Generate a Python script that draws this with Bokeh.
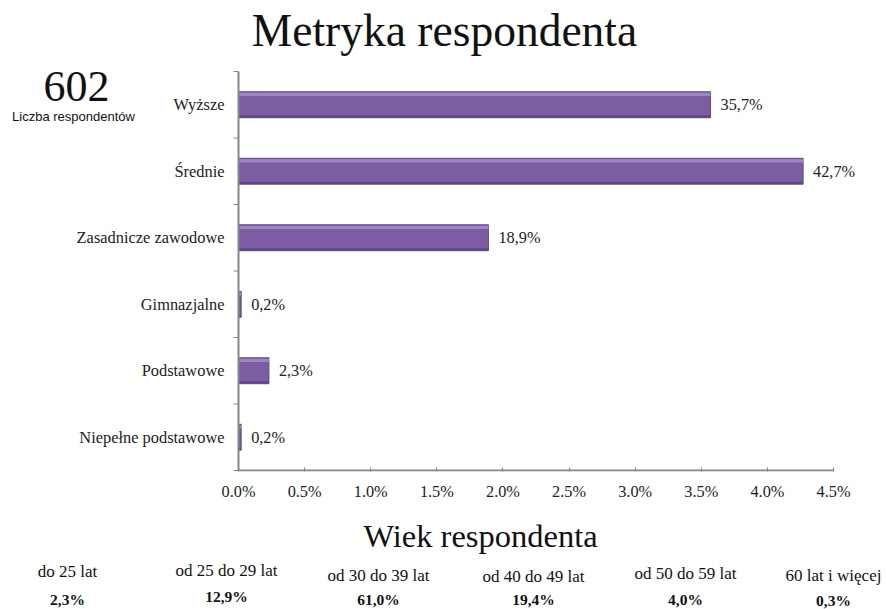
from bokeh.plotting import figure
from bokeh.layouts import column
from bokeh.models import Range1d, FixedTicker, Label, ColumnDataSource
from bokeh.core.properties import value
from bokeh.embed import file_html
from bokeh.resources import INLINE

# ---- data ----
education = ["Wyższe", "Średnie", "Zasadnicze zawodowe", "Gimnazjalne",
             "Podstawowe", "Niepełne podstawowe"]
edu_values = [35.7, 42.7, 18.9, 0.2, 2.3, 0.2]
x_ticks = [0, 5, 10, 15, 20, 25, 30, 35, 40, 45]
x_tick_labels = ["0.0%", "0.5%", "1.0%", "1.5%", "2.0%", "2.5%", "3.0%", "3.5%", "4.0%", "4.5%"]
age_groups = ["do 25 lat", "od 25 do 29 lat", "od 30 do 39 lat", "od 40 do 49 lat",
              "od 50 do 59 lat", "60 lat i więcej"]
age_values = [2.3, 12.9, 61.0, 19.4, 4.0, 0.3]
respondents = 602

# ---- layout (pixels) ----
W = 884
H1, H2 = 508, 101
AX_L, AX_R = 238, 833      # x axis 0 .. 45
AX_T, AX_B = 71, 470       # y axis top / bottom
FB = 471                   # frame bottom
SERIF = "Liberation Serif"
SANS = "Liberation Sans"
GRAY = "#868686"

def fmt(v):
    return ("%.1f%%" % v).replace(".", ",")

ppx = (AX_R - AX_L) / 45.0
ppy = (AX_B - AX_T) / 6.0
xr = Range1d(-AX_L / ppx, 45 + (W - AX_R) / ppx)
yr = Range1d(6 + (FB - AX_B) / ppy, -AX_T / ppy)

p = figure(width=W, height=H1, output_backend="svg", toolbar_location=None,
           x_range=xr, y_range=yr, y_axis_type=None,
           min_border_left=0, min_border_right=0, min_border_top=0, min_border_bottom=H1 - FB)
p.outline_line_color = None
p.grid.visible = False
p.background_fill_color = "white"
p.border_fill_color = "white"

ypos = [i + 0.5 for i in range(len(education))]
src = ColumnDataSource(dict(y=ypos, v=edu_values, lab=[fmt(v) for v in edu_values],
                            cat=education, zero=[0] * len(education),
                            y_top=[y - 0.155 for y in ypos], y_bot=[y + 0.175 for y in ypos]))
p.hbar(y="y", left=0, right="v", height=0.39, source=src,
       fill_color="#7C5DA3", line_color="#5E4A7E", line_width=1)
p.hbar(y="y_top", left=0, right="v", height=0.05, source=src,
       fill_color="#9E86C2", line_color=None)
p.hbar(y="y_bot", left=0, right="v", height=0.035, source=src,
       fill_color="#5F4782", line_color=None)

p.text(x="v", y="y", text="lab", source=src, x_offset=10,
       text_baseline="middle", text_font=value(SERIF), text_font_size="16.3px",
       text_color="#222222")

# category axis (drawn with glyphs so that the whole canvas is the frame)
bounds = list(range(len(education) + 1))
p.segment(x0=[0], y0=[0], x1=[0], y1=[6], line_color=GRAY, line_width=2)
p.segment(x0=[0] * len(bounds), y0=bounds, x1=[-5 / ppx] * len(bounds), y1=bounds,
          line_color=GRAY, line_width=1)
p.text(x="zero", y="y", text="cat", source=src, x_offset=-14, text_align="right",
       text_baseline="middle", text_font=value(SERIF), text_font_size="16.4px",
       text_color="#222222")
# x axis line
p.segment(x0=[0], y0=[6], x1=[45], y1=[6], line_color=GRAY, line_width=2)

xa = p.xaxis[0]
xa.ticker = FixedTicker(ticks=x_ticks)
xa.major_label_overrides = {t: l for t, l in zip(x_ticks, x_tick_labels)}
xa.major_label_text_font = SERIF
xa.major_label_text_font_size = "16.3px"
xa.major_label_text_color = "#222222"
xa.axis_line_color = None
xa.major_tick_line_color = GRAY
xa.major_tick_in = 4
xa.major_tick_out = 0
xa.minor_tick_line_color = None
xa.major_label_standoff = 10

def sy(cy):
    return FB - cy

p.add_layout(Label(x=444, y=sy(30), x_units="screen", y_units="screen", text="Metryka respondenta",
                   text_align="center", text_baseline="middle", text_font=SERIF,
                   text_font_size="45.5px", text_color="#111111"))
p.add_layout(Label(x=76, y=sy(86), x_units="screen", y_units="screen", text=str(respondents),
                   text_align="center", text_baseline="middle", text_font=SERIF,
                   text_font_size="44px", text_color="#111111"))
p.add_layout(Label(x=73, y=sy(116), x_units="screen", y_units="screen", text="Liczba respondentów",
                   text_align="center", text_baseline="middle", text_font=SANS,
                   text_font_size="13px", text_color="#111111"))

# ---- bottom block: age ----
q = figure(width=W, height=H2, output_backend="svg", toolbar_location=None,
           x_range=Range1d(0, W), y_range=Range1d(H1 + H2, H1),
           x_axis_type=None, y_axis_type=None,
           min_border_left=0, min_border_right=0, min_border_top=0, min_border_bottom=0)
q.outline_line_color = None
q.grid.visible = False
q.background_fill_color = "white"
q.border_fill_color = "white"

q.text(x=[480], y=[535], text=["Wiek respondenta"], text_align="center", text_baseline="middle",
       text_font=value(SERIF), text_font_size="32.5px", text_color="#111111")

age_x = [67, 226, 378, 533, 685, 833]
age_y1 = [571, 570, 575, 576, 573, 575]
age_y2 = [599, 596, 599, 599, 599, 600]
age_src = ColumnDataSource(dict(x=age_x, y1=age_y1, y2=age_y2, g=age_groups,
                                v=[fmt(v) for v in age_values]))
q.text(x="x", y="y1", text="g", source=age_src, text_align="center", text_baseline="middle",
       text_font=value(SERIF), text_font_size="17px", text_color="#111111")
q.text(x="x", y="y2", text="v", source=age_src, text_align="center", text_baseline="middle",
       text_font=value(SERIF), text_font_size="15.5px", text_font_style="bold", text_color="#111111")

layout = column(p, q, spacing=0)
open("out.html", "w").write(file_html(layout, INLINE))
